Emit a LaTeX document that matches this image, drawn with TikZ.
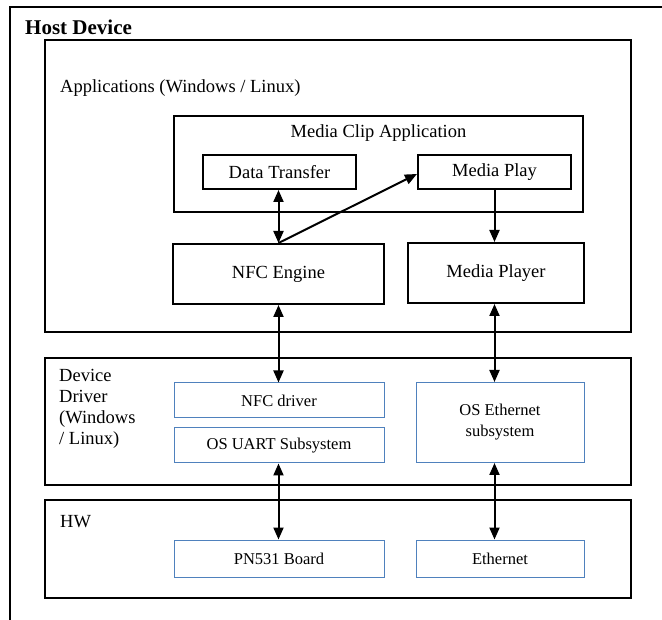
\documentclass[tikz,border=0pt]{standalone}
\usepackage{fontspec}
\setmainfont{Liberation Serif}
\usetikzlibrary{arrows.meta}
\definecolor{boxblue}{RGB}{79,129,189}
\tikzset{
  layer/.style={draw=black, line width=2pt},
  block/.style={draw=black, line width=2pt, font=\fontsize{18.5}{21}\selectfont},
  subblock/.style={draw=boxblue, line width=1pt, font=\fontsize{16.5}{19}\selectfont, align=center},
  link/.style={line width=2pt, -{Triangle[length=12pt,width=10pt]}},
  duplex/.style={line width=2pt, {Triangle[length=12pt,width=10pt]}-{Triangle[length=12pt,width=10pt]}},
  heading/.style={anchor=base west, inner sep=0pt, font=\fontsize{18.5}{21}\selectfont, align=left}
}
\begin{document}
\begin{tikzpicture}[x=1pt, y=-1pt]
\useasboundingbox[fill=white] (0,0) rectangle (662,620);

% host frame (only its top and left edges fall inside the page)
\draw[line width=2pt] (10,622) -- (10,7) -- (664,7);
\node[heading, font=\bfseries\fontsize{21}{24}\selectfont] (host) at (25,35) {Host Device};

% layers
\draw[layer] (45,40) rectangle (631,332);
\node[heading] (appl) at (60,93) {Applications (Windows / Linux)};

\draw[layer] (45,358) rectangle (631,485);
\node[heading, font=\fontsize{18.5}{21}\selectfont, anchor=north west] (drvl) at (59,369) {Device\\Driver\\(Windows\\/ Linux)};

\draw[layer] (45,500) rectangle (631,598);
\node[heading] (hwl) at (60,527) {HW};

% media clip application
\draw[layer] (174,116) rectangle (583,212);
\node[font=\fontsize{18.5}{21}\selectfont, anchor=base] (mca) at (378.5,138) {Media Clip Application};

\node[block, minimum width=153pt, minimum height=34pt] (dt) at (279.5,172) {Data Transfer};
\node[block, minimum width=153pt, minimum height=34pt] (mp) at (494.5,172) {Media Play};

\node[block, minimum width=211pt, minimum height=60pt] (nfce) at (278.5,274) {NFC Engine};
\node[block, minimum width=176pt, minimum height=60pt] (mpl) at (496,273) {Media Player};

% driver layer
\node[subblock, minimum width=210pt, minimum height=35pt] (nfcd) at (279,400.5) {NFC driver};
\node[subblock, minimum width=210pt, minimum height=35pt] (uart) at (279,445.5) {OS UART Subsystem};
\node[subblock, minimum width=168pt, minimum height=80pt] (eths) at (500,422.5) {OS Ethernet\\[2pt]subsystem};

% hardware layer
\node[subblock, minimum width=210pt, minimum height=37pt] (pn) at (279,558.5) {PN531 Board};
\node[subblock, minimum width=168pt, minimum height=37pt] (eth) at (500,558.5) {Ethernet};

% connectors
\draw[duplex] (dt.south -| nfce.north) -- (nfce.north);
\draw[link] (nfce.north) -- (mp.west |- 0,174);
\draw[link] (mp.south) -- (mp.south |- mpl.north);
\draw[duplex] (nfce.south) -- (nfce.south |- nfcd.north);
\draw[duplex] (mp.south |- mpl.south) -- (mp.south |- eths.north);
\draw[duplex] (nfce.south |- uart.south) -- (nfce.south |- pn.north);
\draw[duplex] (mp.south |- eths.south) -- (mp.south |- eth.north);
\end{tikzpicture}
\end{document}
